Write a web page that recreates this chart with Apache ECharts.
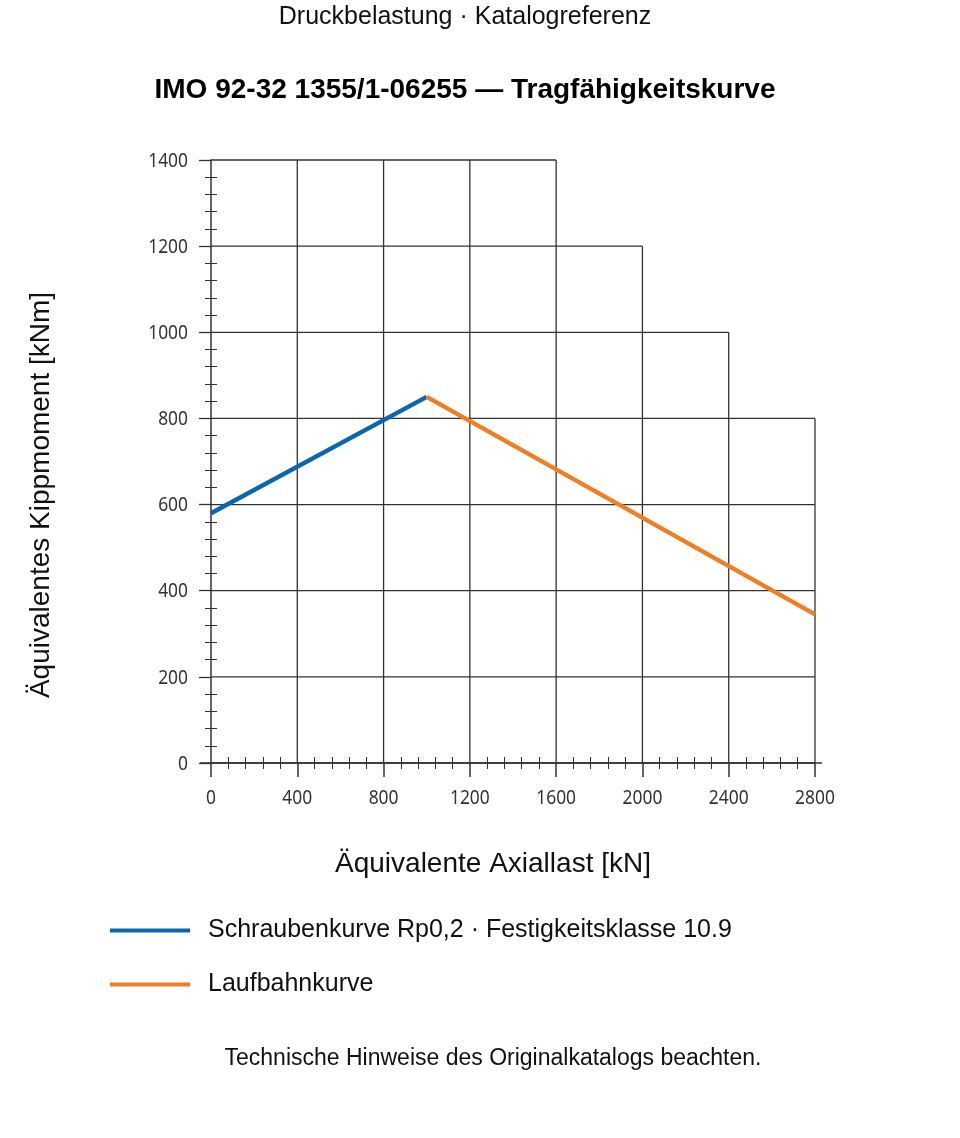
<!DOCTYPE html>
<html>
<head>
<meta charset="utf-8">
<script src="https://cdn.jsdelivr.net/npm/echarts@6/dist/echarts.min.js"></script>
<style>html,body{margin:0;padding:0;background:#fff}#c{width:960px;height:1138px}</style>
</head>
<body>
<div id="c"></div>
<script>
// ---- data ----
const subtitleText = 'Druckbelastung · Katalogreferenz';
const titleText = 'IMO 92-32 1355/1-06255 — Tragfähigkeitskurve';
const xName = 'Äquivalente Axiallast [kN]';
const yName = 'Äquivalentes Kippmoment [kNm]';
const footerText = 'Technische Hinweise des Originalkatalogs beachten.';
const seriesNames = ['Schraubenkurve Rp0,2 · Festigkeitsklasse 10.9', 'Laufbahnkurve'];
const boltX = [0, 1000];
const boltY = [580, 850];
const raceX = [1000, 2800];
const raceY = [850, 345];
// stepped grid envelope: x tick positions and their upper limit
const gridX = [0, 400, 800, 1200, 1600, 2000, 2400, 2800];
const gridCeiling = [1400, 1400, 1400, 1400, 1400, 1200, 1000, 800];
const gridY = [0, 200, 400, 600, 800, 1000, 1200, 1400];
const xTickLabels = ['0', '400', '800', '1200', '1600', '2000', '2400', '2800'];
const yTickLabels = ['0', '200', '400', '600', '800', '1000', '1200', '1400'];

const chart = echarts.init(document.getElementById('c'), null, {renderer: 'canvas'});
const axisColor = '#333';
const textFont = "'Liberation Sans', Arial, sans-serif";
const tickFontCss = "20px 'Noto Sans', 'Open Sans', sans-serif";

function renderGrid(params, api) {
  const children = [];
  const style = {stroke: '#333', lineWidth: 1.3};
  for (let i = 1; i < gridX.length; i++) {
    const p0 = api.coord([gridX[i], 0]);
    const p1 = api.coord([gridX[i], gridCeiling[i]]);
    children.push({type: 'line', shape: {x1: p0[0], y1: p0[1], x2: p1[0], y2: p1[1]}, style: style});
  }
  for (let j = 1; j < gridY.length; j++) {
    let maxX = 0;
    for (let i = 0; i < gridX.length; i++) if (gridCeiling[i] >= gridY[j]) maxX = gridX[i];
    const p0 = api.coord([0, gridY[j]]);
    const p1 = api.coord([maxX, gridY[j]]);
    children.push({type: 'line', shape: {x1: p0[0], y1: p0[1], x2: p1[0], y2: p1[1]}, style: style});
  }
  const a0 = api.coord([0, 0]);
  const a1 = api.coord([gridX[gridX.length - 1], 0]);
  children.push({type: 'line', shape: {x1: a0[0] - 11, y1: a0[1], x2: a1[0] + 7, y2: a1[1]}, style: {stroke: axisColor, lineWidth: 1.5}});
  return {type: 'group', children: children};
}

function renderTickLabels(params, api) {
  const children = [];
  for (let i = 0; i < gridX.length; i++) {
    const p = api.coord([gridX[i], 0]);
    children.push({type: 'text', x: p[0], y: p[1] + 35, scaleX: 0.87,
      style: {text: xTickLabels[i], font: tickFontCss, fill: '#333', align: 'center', verticalAlign: 'middle'}});
  }
  for (let j = 0; j < gridY.length; j++) {
    const p = api.coord([0, gridY[j]]);
    children.push({type: 'text', x: p[0] - 23, y: p[1] + 1, scaleX: 0.87,
      style: {text: yTickLabels[j], font: tickFontCss, fill: '#333', align: 'right', verticalAlign: 'middle'}});
  }
  return {type: 'group', children: children};
}

const option = {
  backgroundColor: '#fff',
  animation: false,
  title: [
    {text: subtitleText, left: 460, top: 0, textAlign: 'center',
     textStyle: {fontFamily: textFont, fontSize: 25, fontWeight: 'normal', color: '#111'}},
    {text: titleText, left: 460, top: 71, textAlign: 'center',
     textStyle: {fontFamily: textFont, fontSize: 28, fontWeight: 'bold', color: '#000'}},
    {text: xName, left: 488, top: 845, textAlign: 'center',
     textStyle: {fontFamily: textFont, fontSize: 28, fontWeight: 'normal', color: '#111'}},
    {text: footerText, left: 488, top: 1042, textAlign: 'center',
     textStyle: {fontFamily: textFont, fontSize: 23, fontWeight: 'normal', color: '#111'}}
  ],
  graphic: [
    {type: 'text', x: 41, y: 495, rotation: Math.PI / 2,
     style: {text: yName, font: "28px 'Liberation Sans', Arial, sans-serif", fill: '#111', align: 'center', verticalAlign: 'middle'}}
  ],
  legend: {
    orient: 'vertical', left: 105, top: 912, itemWidth: 80, itemHeight: 4, itemGap: 27,
    icon: 'rect',
    textStyle: {fontFamily: textFont, fontSize: 25, lineHeight: 27, color: '#111', padding: [0, 0, 0, 13]},
    data: seriesNames
  },
  grid: {left: 211, right: 145, top: 160, bottom: 375, containLabel: false},
  xAxis: [
    {type: 'value', min: 0, max: 2800, interval: 400,
     axisLine: {show: true, onZero: false, lineStyle: {color: axisColor, width: 1.5}},
     axisTick: {show: true, length: 14, lineStyle: {color: axisColor, width: 1.5}},
     minorTick: {show: true, splitNumber: 5, length: 6, lineStyle: {color: axisColor, width: 1}},
     axisLabel: {show: false},
     splitLine: {show: false}},
    {type: 'value', min: 0, max: 2800, interval: 400, position: 'bottom',
     axisLine: {show: false},
     axisTick: {show: false, inside: true},
     minorTick: {show: true, splitNumber: 5, length: 6, lineStyle: {color: axisColor, width: 1}},
     axisLabel: {show: false}, splitLine: {show: false}}
  ],
  yAxis: [
    {type: 'value', min: 0, max: 1400, interval: 200,
     axisLine: {show: true, onZero: false, lineStyle: {color: axisColor, width: 1.5}},
     axisTick: {show: true, length: 12, lineStyle: {color: axisColor, width: 1.3}},
     minorTick: {show: true, splitNumber: 5, length: 6, lineStyle: {color: axisColor, width: 1}},
     axisLabel: {show: false},
     splitLine: {show: false}},
    {type: 'value', min: 0, max: 1400, interval: 200, position: 'left',
     axisLine: {show: false},
     axisTick: {show: false, inside: true},
     minorTick: {show: true, splitNumber: 5, length: 6, lineStyle: {color: axisColor, width: 1}},
     axisLabel: {show: false}, splitLine: {show: false}}
  ],
  series: [
    {type: 'custom', renderItem: renderGrid, data: [0], silent: true, clip: false, z: 1,
     xAxisIndex: 0, yAxisIndex: 0},
    {type: 'custom', renderItem: renderTickLabels, data: [0], silent: true, clip: false, z: 2,
     xAxisIndex: 0, yAxisIndex: 0},
    {name: seriesNames[0], type: 'line', xAxisIndex: 0, yAxisIndex: 0, z: 5,
     data: boltX.map((x, i) => [x, boltY[i]]), showSymbol: false, symbol: 'none',
     lineStyle: {color: '#0a67ad', width: 4.5}, itemStyle: {color: '#0a67ad'}},
    {name: seriesNames[1], type: 'line', xAxisIndex: 0, yAxisIndex: 0, z: 5,
     data: raceX.map((x, i) => [x, raceY[i]]), showSymbol: false, symbol: 'none',
     lineStyle: {color: '#ef7f22', width: 4.5}, itemStyle: {color: '#ef7f22'}}
  ]
};
chart.setOption(option);
</script>
</body>
</html>
